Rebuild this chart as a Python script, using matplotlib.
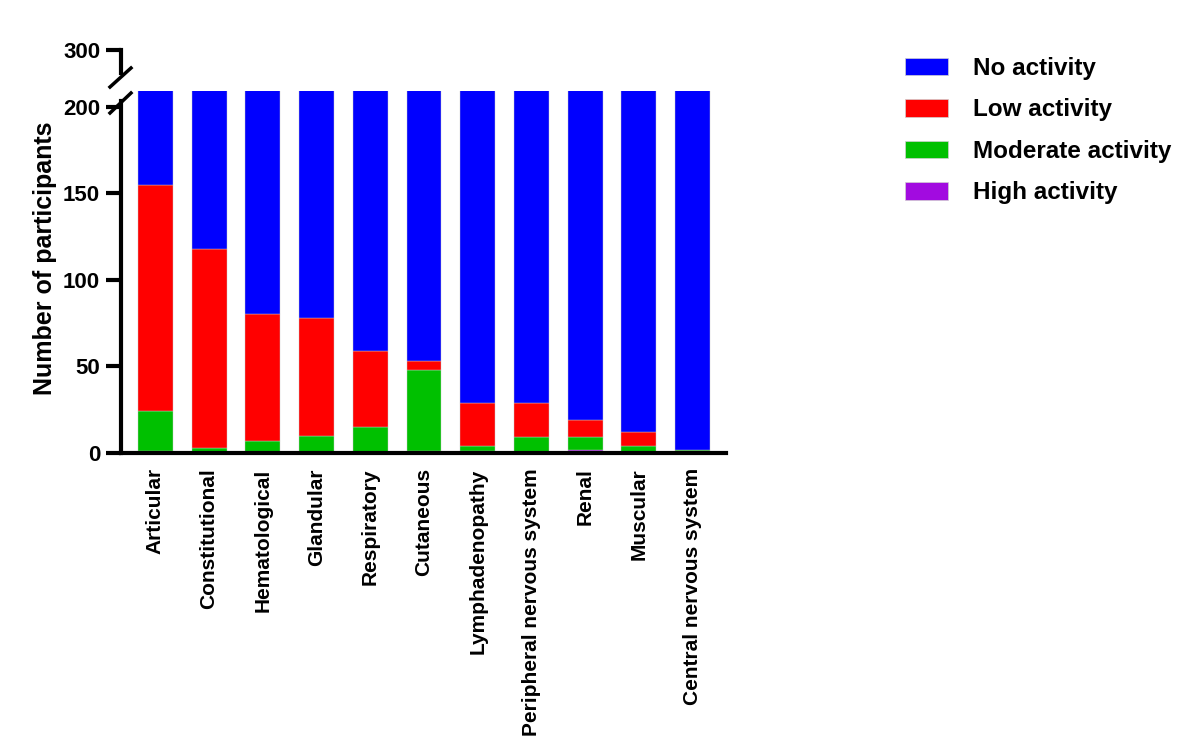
import numpy as np
import matplotlib.pyplot as plt
from matplotlib.patches import Patch
from matplotlib.lines import Line2D

plt.rcParams['font.family'] = ['Liberation Sans', 'DejaVu Sans']
plt.rcParams['font.weight'] = 'bold'

categories = ['Articular', 'Constitutional', 'Hematological', 'Glandular',
              'Respiratory', 'Cutaneous', 'Lymphadenopathy',
              'Peripheral nervous system', 'Renal', 'Muscular',
              'Central nervous system']
total = 210
high = [1, 0, 0, 0, 0, 1, 1, 0, 2, 0, 0]
moderate = [23, 3, 7, 10, 15, 47, 3, 9, 7, 4, 2]
low = [131, 115, 73, 68, 44, 5, 25, 20, 10, 8, 0]
none = [total - h - m - l for h, m, l in zip(high, moderate, low)]

series = ['No activity', 'Low activity', 'Moderate activity', 'High activity']
colors = ['#0000FF', '#FF0000', '#00C000', '#A20BE0']

fig = plt.figure(figsize=(12, 7.51), dpi=100)
W, H = 1200, 751
ax = fig.add_axes([121 / W, (H - 453) / H, (726 - 121) / W, (453 - 91) / H])
ax_top = fig.add_axes([121 / W, (H - 73) / H, (726 - 121) / W, 23 / H])

x = np.arange(len(categories))
width = 0.65
bottom = np.zeros(len(categories))
# stack from the bottom: high, moderate, low, none
for vals, col in [(high, colors[3]), (moderate, colors[2]), (low, colors[1]), (none, colors[0])]:
    ax.bar(x, vals, width, bottom=bottom, color=col, edgecolor='#c8c8c8', linewidth=0.3)
    bottom += np.array(vals)

ax.set_xlim(-0.64, 10.62)
ax.set_ylim(0, 209)
ax.set_yticks([0, 50, 100, 150, 200])
ax.set_xticks(x)
ax.set_xticklabels(categories, rotation=90, fontsize=15, fontweight='bold')
ax.tick_params(axis='x', length=0, pad=11)
ax.tick_params(axis='y', length=11, width=3, labelsize=16, pad=4)
for s in ['top', 'right']:
    ax.spines[s].set_visible(False)
ax.spines['left'].set_linewidth(3)
ax.spines['bottom'].set_linewidth(3)
ax.spines['left'].set_bounds(0, 203)

ax_top.set_ylim(290, 300)
ax_top.set_yticks([300])
ax_top.set_xticks([])
ax_top.patch.set_visible(False)
for s in ['top', 'right', 'bottom']:
    ax_top.spines[s].set_visible(False)
ax_top.spines['left'].set_linewidth(3)
ax_top.tick_params(axis='y', length=11, width=3, labelsize=16, pad=4)

# break marks
fig.add_artist(Line2D([110 / W, 131 / W], [(H - 113) / H, (H - 93) / H], color='black', lw=2.5))
fig.add_artist(Line2D([110 / W, 131 / W], [(H - 87) / H, (H - 68) / H], color='black', lw=2.5))

fig.text(45 / W, (H - 258) / H, 'Number of participants', rotation=90,
         ha='center', va='center', fontsize=18, fontweight='bold')

handles = [Patch(facecolor=c, edgecolor='#d0d0d0', linewidth=0.5) for c in colors]
fig.legend(handles, series, loc='upper left', bbox_to_anchor=(905 / W, (H - 57) / H),
           frameon=False, handlelength=1.77, handleheight=0.74,
           labelspacing=0.76, handletextpad=1.03, borderpad=0, borderaxespad=0,
           prop={'weight': 'bold', 'size': 17.5})

fig.savefig('out.png', dpi=100)
